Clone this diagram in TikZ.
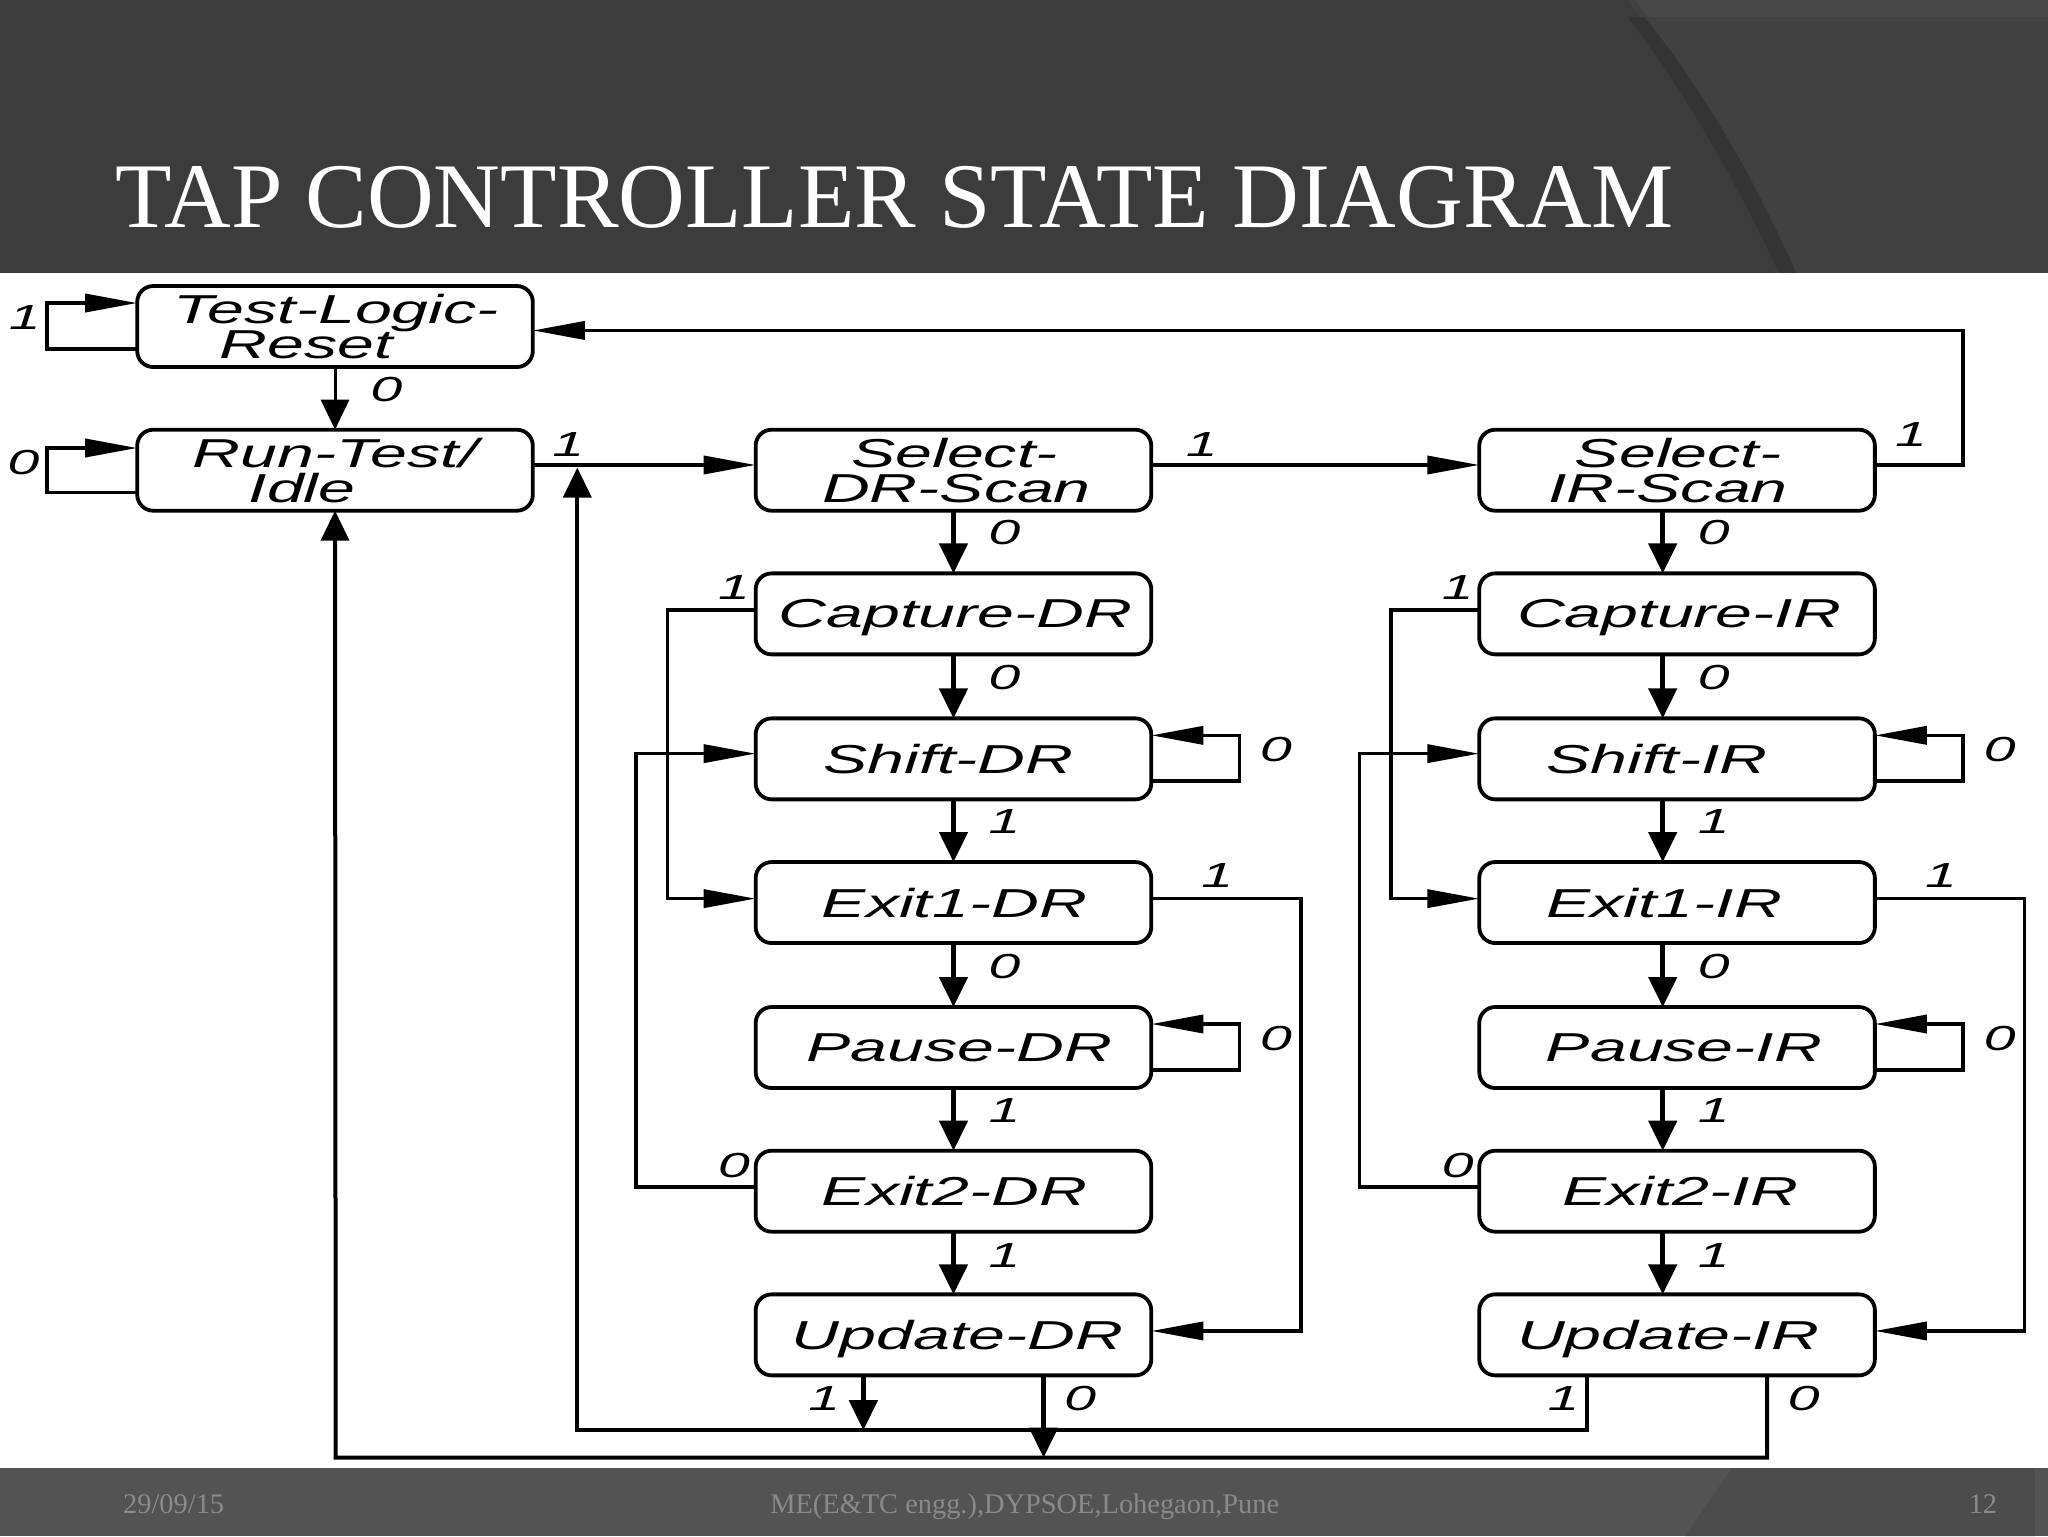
\documentclass[tikz,border=0pt]{standalone}
\usepackage{fontspec}
\usepackage{tikz}
\usetikzlibrary{arrows.meta}
\setmainfont{Liberation Serif}
\newfontfamily\statefont[FakeStretch=1.64]{Liberation Sans}
% text is not quite centred in its box in the source drawing
\newcommand\nudge[2]{\raisebox{0pt}[\height][0pt]{\makebox[0pt]{\hspace{#1pt}#2}}}

\begin{document}
\begin{tikzpicture}[x=0.65306pt,y=-0.65306pt]
\tikzset{statebox/.style={draw, line width=1.9pt, outer sep=0pt, rounded corners=8pt, minimum width=197.8pt, minimum height=40.5pt, inner sep=0pt, align=center, font=\statefont\itshape\fontsize{20.2}{17.6}\selectfont}}
\tikzset{edgelab/.style={inner sep=0pt, font=\statefont\itshape\fontsize{17.4}{17}\selectfont}}
\tikzset{wire/.style={draw, line width=1.8pt}}
\tikzset{htip/.style={wire, -{Triangle[length=26pt,width=9pt]}}}
\tikzset{vtip/.style={wire, line width=2.4pt, -{Triangle[length=15pt,width=14pt]}}}
\tikzset{slidetext/.style={inner sep=0pt, anchor=base west, text=footgrey, font=\fontsize{14.2}{16}\selectfont}}
\definecolor{headbg}{HTML}{3C3C3C}
\definecolor{headright}{HTML}{414141}
\definecolor{headband}{HTML}{343434}
\definecolor{headtop}{HTML}{484848}
\definecolor{footbg}{HTML}{535353}
\definecolor{footright}{HTML}{4C4C4C}
\definecolor{footgrey}{HTML}{8A8A8A}
\useasboundingbox (0,0) rectangle (1568,1176);
% slide
\fill[white] (0,0) rectangle (1568,1176);
\fill[headbg] (0,0) rectangle (1568,209);
\fill[headright] (1246,0) .. controls (1300,70) and (1340,140) .. (1375,209) -- (1568,209) -- (1568,0) -- cycle;
\fill[headband] (1246,13) .. controls (1290,70) and (1330,140) .. (1362,209) -- (1375,209) .. controls (1345,140) and (1305,70) .. (1259,13) -- cycle;
\fill[headtop] (1252,0) -- (1262,13) -- (1568,13) -- (1568,0) -- cycle;
\fill[footbg] (0,1124) rectangle (1568,1176);
\fill[footright] (1326,1124) -- (1558,1124) -- (1558,1176) -- (1290,1176) -- cycle;
\node[inner sep=0pt, anchor=base west, text=white, font=\fontsize{46.2}{50}\selectfont] (title) at (88,174) {TAP CONTROLLER STATE DIAGRAM};
\node[slidetext] (date) at (94,1159) {29/09/15};
\node[slidetext] (place) at (589.5,1159) {ME(E\&TC engg.),DYPSOE,Lohegaon,Pune};
\node[slidetext] (page) at (1507,1159) {12};
% states
\node[statebox] (tlr) at (256.5,250) {\nudge{1}{Test-Logic-}\\\nudge{-29}{Reset}};
\node[statebox] (rti) at (256.5,360) {\nudge{0}{Run-Test/}\\\nudge{-33}{Idle}};
\node[statebox] (seldr) at (730,360) {\nudge{1}{Select-}\\\nudge{3}{DR-Scan}};
\node[statebox] (capdr) at (730,470) {\nudge{2}{Capture-DR}};
\node[statebox] (shdr) at (730,581) {\nudge{-5}{Shift-DR}};
\node[statebox] (exadr) at (730,691) {\nudge{1}{Exit1-DR}};
\node[statebox] (padr) at (730,802) {\nudge{6}{Pause-DR}};
\node[statebox] (exbdr) at (730,912) {\nudge{1}{Exit2-DR}};
\node[statebox] (updr) at (730,1022) {\nudge{4}{Update-DR}};
\node[statebox] (selir) at (1284,360) {\nudge{1}{Select-}\\\nudge{-9}{IR-Scan}};
\node[statebox] (capir) at (1284,470) {\nudge{2}{Capture-IR}};
\node[statebox] (shir) at (1284,581) {\nudge{-20}{Shift-IR}};
\node[statebox] (exair) at (1284,691) {\nudge{-13}{Exit1-IR}};
\node[statebox] (pair) at (1284,802) {\nudge{7}{Pause-IR}};
\node[statebox] (exbir) at (1284,912) {\nudge{3}{Exit2-IR}};
\node[statebox] (upir) at (1284,1022) {\nudge{-9}{Update-IR}};
% labels on the edges
\foreach \n/\x/\y/\t in {a/19/243/1, b/18/354/0, c/296/298/0, d/435/340/1, e/920/340/1, f/1463/333/1,
  g/769/408/0, h/769/519/0, i/769/629/1, j/769/740/0, k/769/850/1, l/769/961/1,
  m/1312/408/0, n/1312/519/0, o/1312/629/1, p/1312/740/0, q/1312/850/1, r/1312/961/1,
  s/562/450/1, t/562/892/0, u/1116/450/1, v/1116/892/0, w/977/574/0, x/977/795/0, y/1531/574/0, z/1531/795/0,
  aa/932/670/1, ab/1486/670/1, ac/631/1071/1, ad/827/1071/0, ae/1197/1071/1, af/1381/1071/0}
  \node[edgelab] (lab\n) at (\x,\y) {\t};
% top row
\draw[htip] (tlr.west |- 0,267) -- (36,267) -- (36,232) -- (tlr.west |- 0,232);
\draw[htip] (rti.west |- 0,377) -- (36,377) -- (36,343) -- (rti.west |- 0,343);
\draw[vtip, line width=1.5pt] (tlr.south) -- (rti.north);
\draw[htip] (rti.east |- 0,356) -- (seldr.west |- 0,356);
\draw[htip] (seldr.east |- 0,356) -- (selir.west |- 0,356);
\draw[htip] (selir.east |- 0,356) -- (1503,356) -- (1503,253) -- (tlr.east |- 0,253);
% DR column
\draw[vtip] (seldr) -- (capdr);
\draw[vtip] (capdr) -- (shdr);
\draw[vtip] (shdr) -- (exadr);
\draw[vtip] (exadr) -- (padr);
\draw[vtip] (padr) -- (exbdr);
\draw[vtip] (exbdr) -- (updr);
\draw[htip] (capdr.west |- 0,467) -- (511,467) -- (511,688) -- (exadr.west |- 0,688);
\draw[htip] (exbdr.west |- 0,909) -- (487,909) -- (487,577) -- (shdr.west |- 0,577);
\draw[htip] (shdr.east |- 0,598) -- (949,598) -- (949,563) -- (shdr.east |- 0,563);
\draw[htip] (padr.east |- 0,819) -- (949,819) -- (949,784) -- (padr.east |- 0,784);
\draw[htip] (exadr.east |- 0,688) -- (996,688) -- (996,1019) -- (updr.east |- 0,1019);
% IR column
\draw[vtip] (selir.south -| 1273,0) -- (capir.north -| 1273,0);
\draw[vtip] (capir.south -| 1273,0) -- (shir.north -| 1273,0);
\draw[vtip] (shir.south -| 1273,0) -- (exair.north -| 1273,0);
\draw[vtip] (exair.south -| 1273,0) -- (pair.north -| 1273,0);
\draw[vtip] (pair.south -| 1273,0) -- (exbir.north -| 1273,0);
\draw[vtip] (exbir.south -| 1273,0) -- (upir.north -| 1273,0);
\draw[htip] (capir.west |- 0,467) -- (1065,467) -- (1065,688) -- (exair.west |- 0,688);
\draw[htip] (exbir.west |- 0,909) -- (1041,909) -- (1041,577) -- (shir.west |- 0,577);
\draw[htip] (shir.east |- 0,598) -- (1503,598) -- (1503,563) -- (shir.east |- 0,563);
\draw[htip] (pair.east |- 0,819) -- (1503,819) -- (1503,784) -- (pair.east |- 0,784);
\draw[htip] (exair.east |- 0,688) -- (1550,688) -- (1550,1019) -- (upir.east |- 0,1019);
% back to the start
\draw[vtip, line width=2pt] (upir.south -| 1215,0) -- (1215,1095) -- (442,1095) -- (442,358);
\draw[vtip, line width=2pt] (upir.south -| 1353,0) -- (1353,1116) -- (257,1116) -- (rti.south);
\draw[vtip] (updr.south -| 661,0) -- (661,1095);
\draw[vtip] (updr.south -| 799,0) -- (799,1116);
\end{tikzpicture}
\end{document}
